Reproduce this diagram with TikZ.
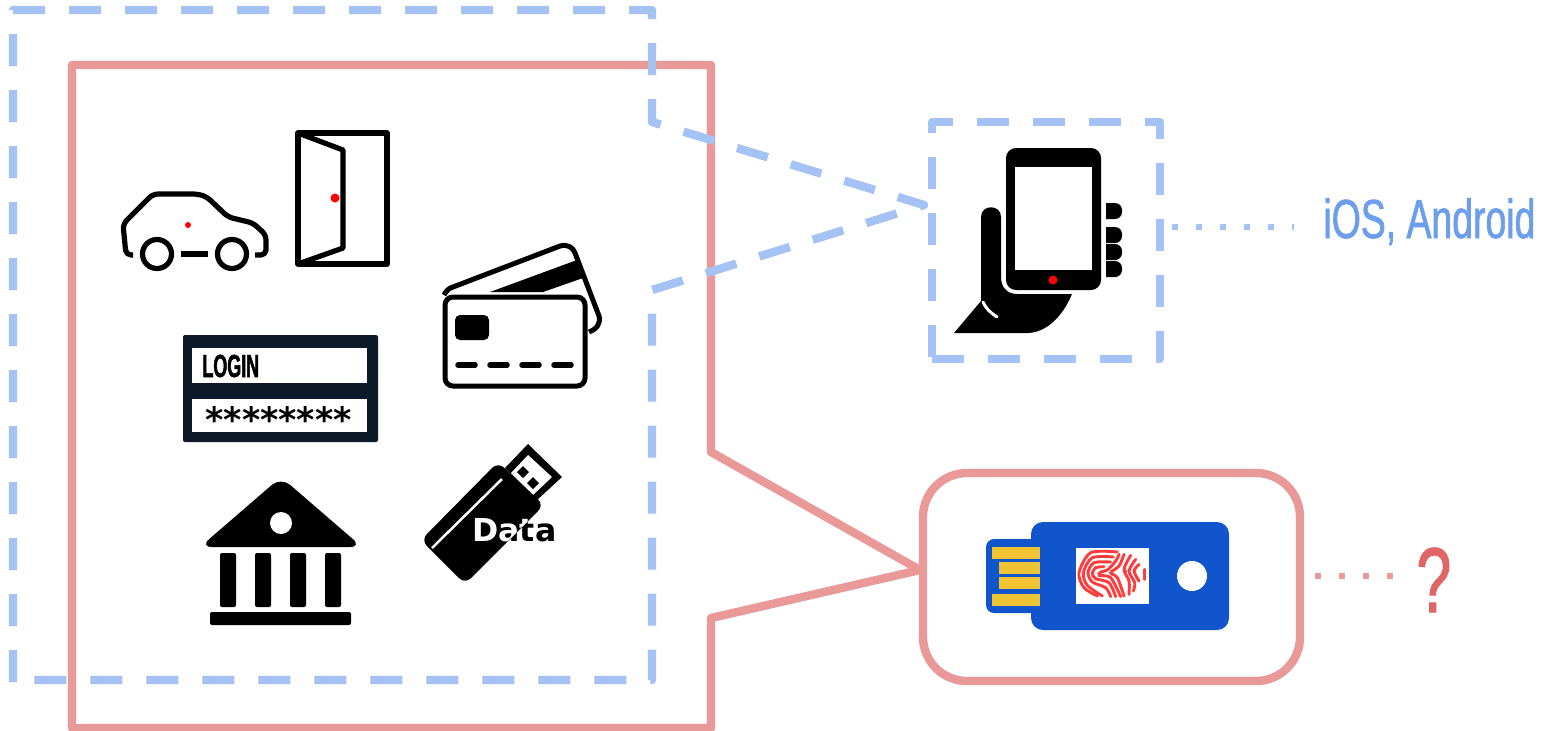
\documentclass[tikz,border=0pt]{standalone}
\usepackage{fontspec}
\setmainfont{Liberation Sans}
\newfontfamily\narrowfont[FakeStretch=0.68,FakeBold=1.2]{Liberation Sans}
\newfontfamily\loginfont[FakeStretch=0.56,FakeBold=1.5]{Liberation Sans}
\newfontfamily\symbfont{DejaVu Sans}
\definecolor{linkblue}{HTML}{A4C2F4}
\definecolor{linkred}{HTML}{EA9999}
\definecolor{wordblue}{HTML}{6D9EEB}
\definecolor{wordred}{HTML}{E06666}
\definecolor{tokenblue}{HTML}{1155CC}
\definecolor{tokengold}{HTML}{F1C232}
\definecolor{loginnavy}{HTML}{0B1929}
\definecolor{printred}{HTML}{FF3B3B}

\begin{document}
\begin{tikzpicture}[x=0.5pt,y=-0.5pt,
        bluedash/.style = {draw=linkblue, line width=4.2pt, line join=round,
          dash pattern=on 16pt off 12pt},
        redline/.style = {draw=linkred, line width=4.2pt, line join=round},
        bluedot/.style = {draw=linkblue, line width=3pt,
          dash pattern=on 3pt off 9pt},
        reddot/.style = {draw=linkred, line width=3pt,
          dash pattern=on 3pt off 9pt},
        outline/.style = {draw=black, line width=2.6pt, line join=round},
        ridge/.style = {draw=printred, line width=1.45pt, line cap=round},
        word/.style = {inner sep=0pt, anchor=base west}]
    \useasboundingbox (0,0) rectangle (1546,730);
    \fill[white] (0,0) rectangle (1546,730);

    \draw[redline] (72,65) -- (711,65) -- (711,452) -- (920,570) -- (711,618)
        -- (711,728) -- (72,728) -- cycle;
    \draw[redline,rounded corners=22pt] (923,473) rectangle (1300,681);
    \draw[bluedash] (13,682) -- (13,10) -- (652,10) -- (652,122) -- (924,205)
        -- (652,290) -- (652,680) -- (13,680);
    \draw[bluedash] (932,359) -- (1160,359) -- (1160,122) -- (932,122) -- (932,359);

    \node[word,font=\narrowfont\fontsize{27.5pt}{27.5pt}\selectfont,text=wordblue]
        (iosLabel) at (1323,238) {iOS, Android};
    \node[word,font=\narrowfont\fontsize{46pt}{46pt}\selectfont,text=wordred]
        (askLabel) at (1416,612) {?};
    \coordinate (phoneSide) at (1172,227);
    \coordinate (tokenSide) at (1315,576);
    \draw[bluedot,shorten >=14.5pt] (phoneSide) -- (phoneSide -| iosLabel.west);
    \draw[reddot,shorten >=10pt] (tokenSide) -- (tokenSide -| askLabel.west);

    \draw[outline,rounded corners=2.5pt] (133,255) -- (126,255) -- (123,224) -- (153,194)
        -- (198,194) -- (207,197) -- (228,217) -- (253,223) -- (266,235) -- (266,255) -- (255,255);
    \foreach \wheelx in {157,232}
        \draw[outline] (\wheelx,254) circle (14.5);
    \draw[outline] (181,254) -- (208,254);
    \fill[red] (188,225) circle (3);

    \draw[outline] (298,133) rectangle (387,264);
    \draw[outline] (298,133) -- (343,150) -- (343,248) -- (298,264);
    \fill[red] (335,198) circle (4.5);

    \draw[outline,line width=2.5pt] (444,295) .. controls (446,291) and (449,288) .. (453,287)
        -- (560,246) .. controls (567,244) and (573,247) .. (575,253) -- (599,316)
        .. controls (601,323) and (597,329) .. (589,332);
    \fill (490,292) -- (577,260) -- (583,278) -- (543,292) -- cycle;
    \draw[outline,line width=2.5pt,fill=white,rounded corners=4pt] (445,297) rectangle (585,386);
    \fill[rounded corners=2.5pt] (455,315) rectangle (489,340);
    \foreach \slotx in {455,487,519,551}
        \draw[black,line width=2.75pt,line cap=round] (\slotx+3,365) -- (\slotx+20,365);

    \fill[loginnavy,rounded corners=1pt] (183,335) rectangle (378,442);
    \fill[white] (192,348) rectangle (367,383);
    \fill[white] (192,399) rectangle (367,432);
    \node[word,font=\loginfont\bfseries\fontsize{16pt}{16pt}\selectfont,text=black]
        (loginWord) at (202,377) {LOGIN};
    \node[word,font=\symbfont\bfseries\fontsize{17.5pt}{17.5pt}\selectfont,text=black]
        (starWord) at (205,432) {********};

    \fill[rounded corners=6pt] (281,477) -- (362,547) -- (200,547) -- cycle;
    \fill[white] (281,523) circle (11);
    \foreach \pillarx in {220,255,290,325}
        \fill[rounded corners=1pt] (\pillarx,553) rectangle (\pillarx+16,607);
    \fill[rounded corners=1pt] (210,612) rectangle (351,625);

    \fill (528,444) -- (562,477) -- (537,500) -- (505,468) -- cycle;
    \fill[white] (528,455) -- (552,477) -- (533,495) -- (511,473) -- cycle;
    \fill (523,466) -- (529,472) -- (523,478) -- (517,472) -- cycle;
    \fill (533,477) -- (539,483) -- (533,489) -- (527,483) -- cycle;
    \fill[rounded corners=4pt] (498,462) -- (544,505) -- (465,584) -- (421,540) -- cycle;
    \draw[white,line width=1.25pt] (502,479) -- (432,548);
    \begin{scope}[blend mode=difference]
        \node[word,font=\symbfont\bfseries\fontsize{15.8pt}{15.8pt}\selectfont,text=white]
            (dataWord) at (472,541) {Data};
    \end{scope}

    \fill[rounded corners=5pt] (1006,148) rectangle (1101,290);
    \fill[white] (1015,167) rectangle (1092,270);
    \fill[red] (1053,280) circle (4.5);
    \foreach \fingery in {203,227,244,261}
        \fill (1106,\fingery) [rounded corners=3.5pt] -- (1122,\fingery) -- (1122,\fingery+16)
            [sharp corners] -- (1106,\fingery+16) -- cycle;
    \fill (981,217) .. controls (981,204) and (1001,204) .. (1001,217) -- (1001,277)
        .. controls (1001,288) and (1008,294) .. (1017,294) -- (1072,294)
        .. controls (1062,318) and (1045,333) .. (1027,333) -- (954,333) -- (981,301) -- cycle;
    \draw[white,line width=1.5pt,line cap=round] (983,302) .. controls (986,309) and (991,313) .. (997,317);

    \fill[tokenblue,rounded corners=4pt] (986,539) rectangle (1040,613);
    \fill[tokenblue,rounded corners=6pt] (1031,522) rectangle (1229,630);
    \fill[tokengold] (992,547) rectangle (1040,559);
    \fill[tokengold] (999,562) rectangle (1040,574);
    \fill[tokengold] (999,577) rectangle (1040,589);
    \fill[tokengold] (992,594) rectangle (1040,606);
    \fill[white] (1076,548) rectangle (1149,604);
    \fill[white] (1192,576) circle (15);
    \begin{scope}[shift={(1074,546)},x=0.1667pt,y=-0.1667pt]
        \draw[ridge] plot[smooth] coordinates {(130,18) (50,20) (15,80) (30,125) (70,150)};
        \draw[ridge] plot[smooth] coordinates {(118,33) (55,35) (28,80) (40,118) (85,150)};
        \draw[ridge] plot[smooth] coordinates {(110,48) (60,50) (42,80) (55,108) (95,125) (110,152)};
        \draw[ridge] plot[smooth] coordinates {(90,62) (65,65) (55,82) (65,98) (105,110) (125,152)};
        \draw[ridge] plot[smooth] coordinates {(135,25) (125,45) (100,72) (80,78) (75,88) (110,95) (140,152)};
        \draw[ridge] plot[smooth] coordinates {(150,25) (135,60) (110,80) (130,95) (150,150)};
        \draw[ridge] plot[smooth] coordinates {(170,28) (150,70) (165,105) (165,145)};
        \draw[ridge] plot[smooth] coordinates {(185,40) (165,75) (182,110) (178,135)};
        \draw[ridge] plot[smooth] coordinates {(195,55) (180,75) (195,105)};
        \draw[ridge] (212,70) -- (212,100);
        \fill[printred] (155,75) circle (5);
    \end{scope}
\end{tikzpicture}
\end{document}
